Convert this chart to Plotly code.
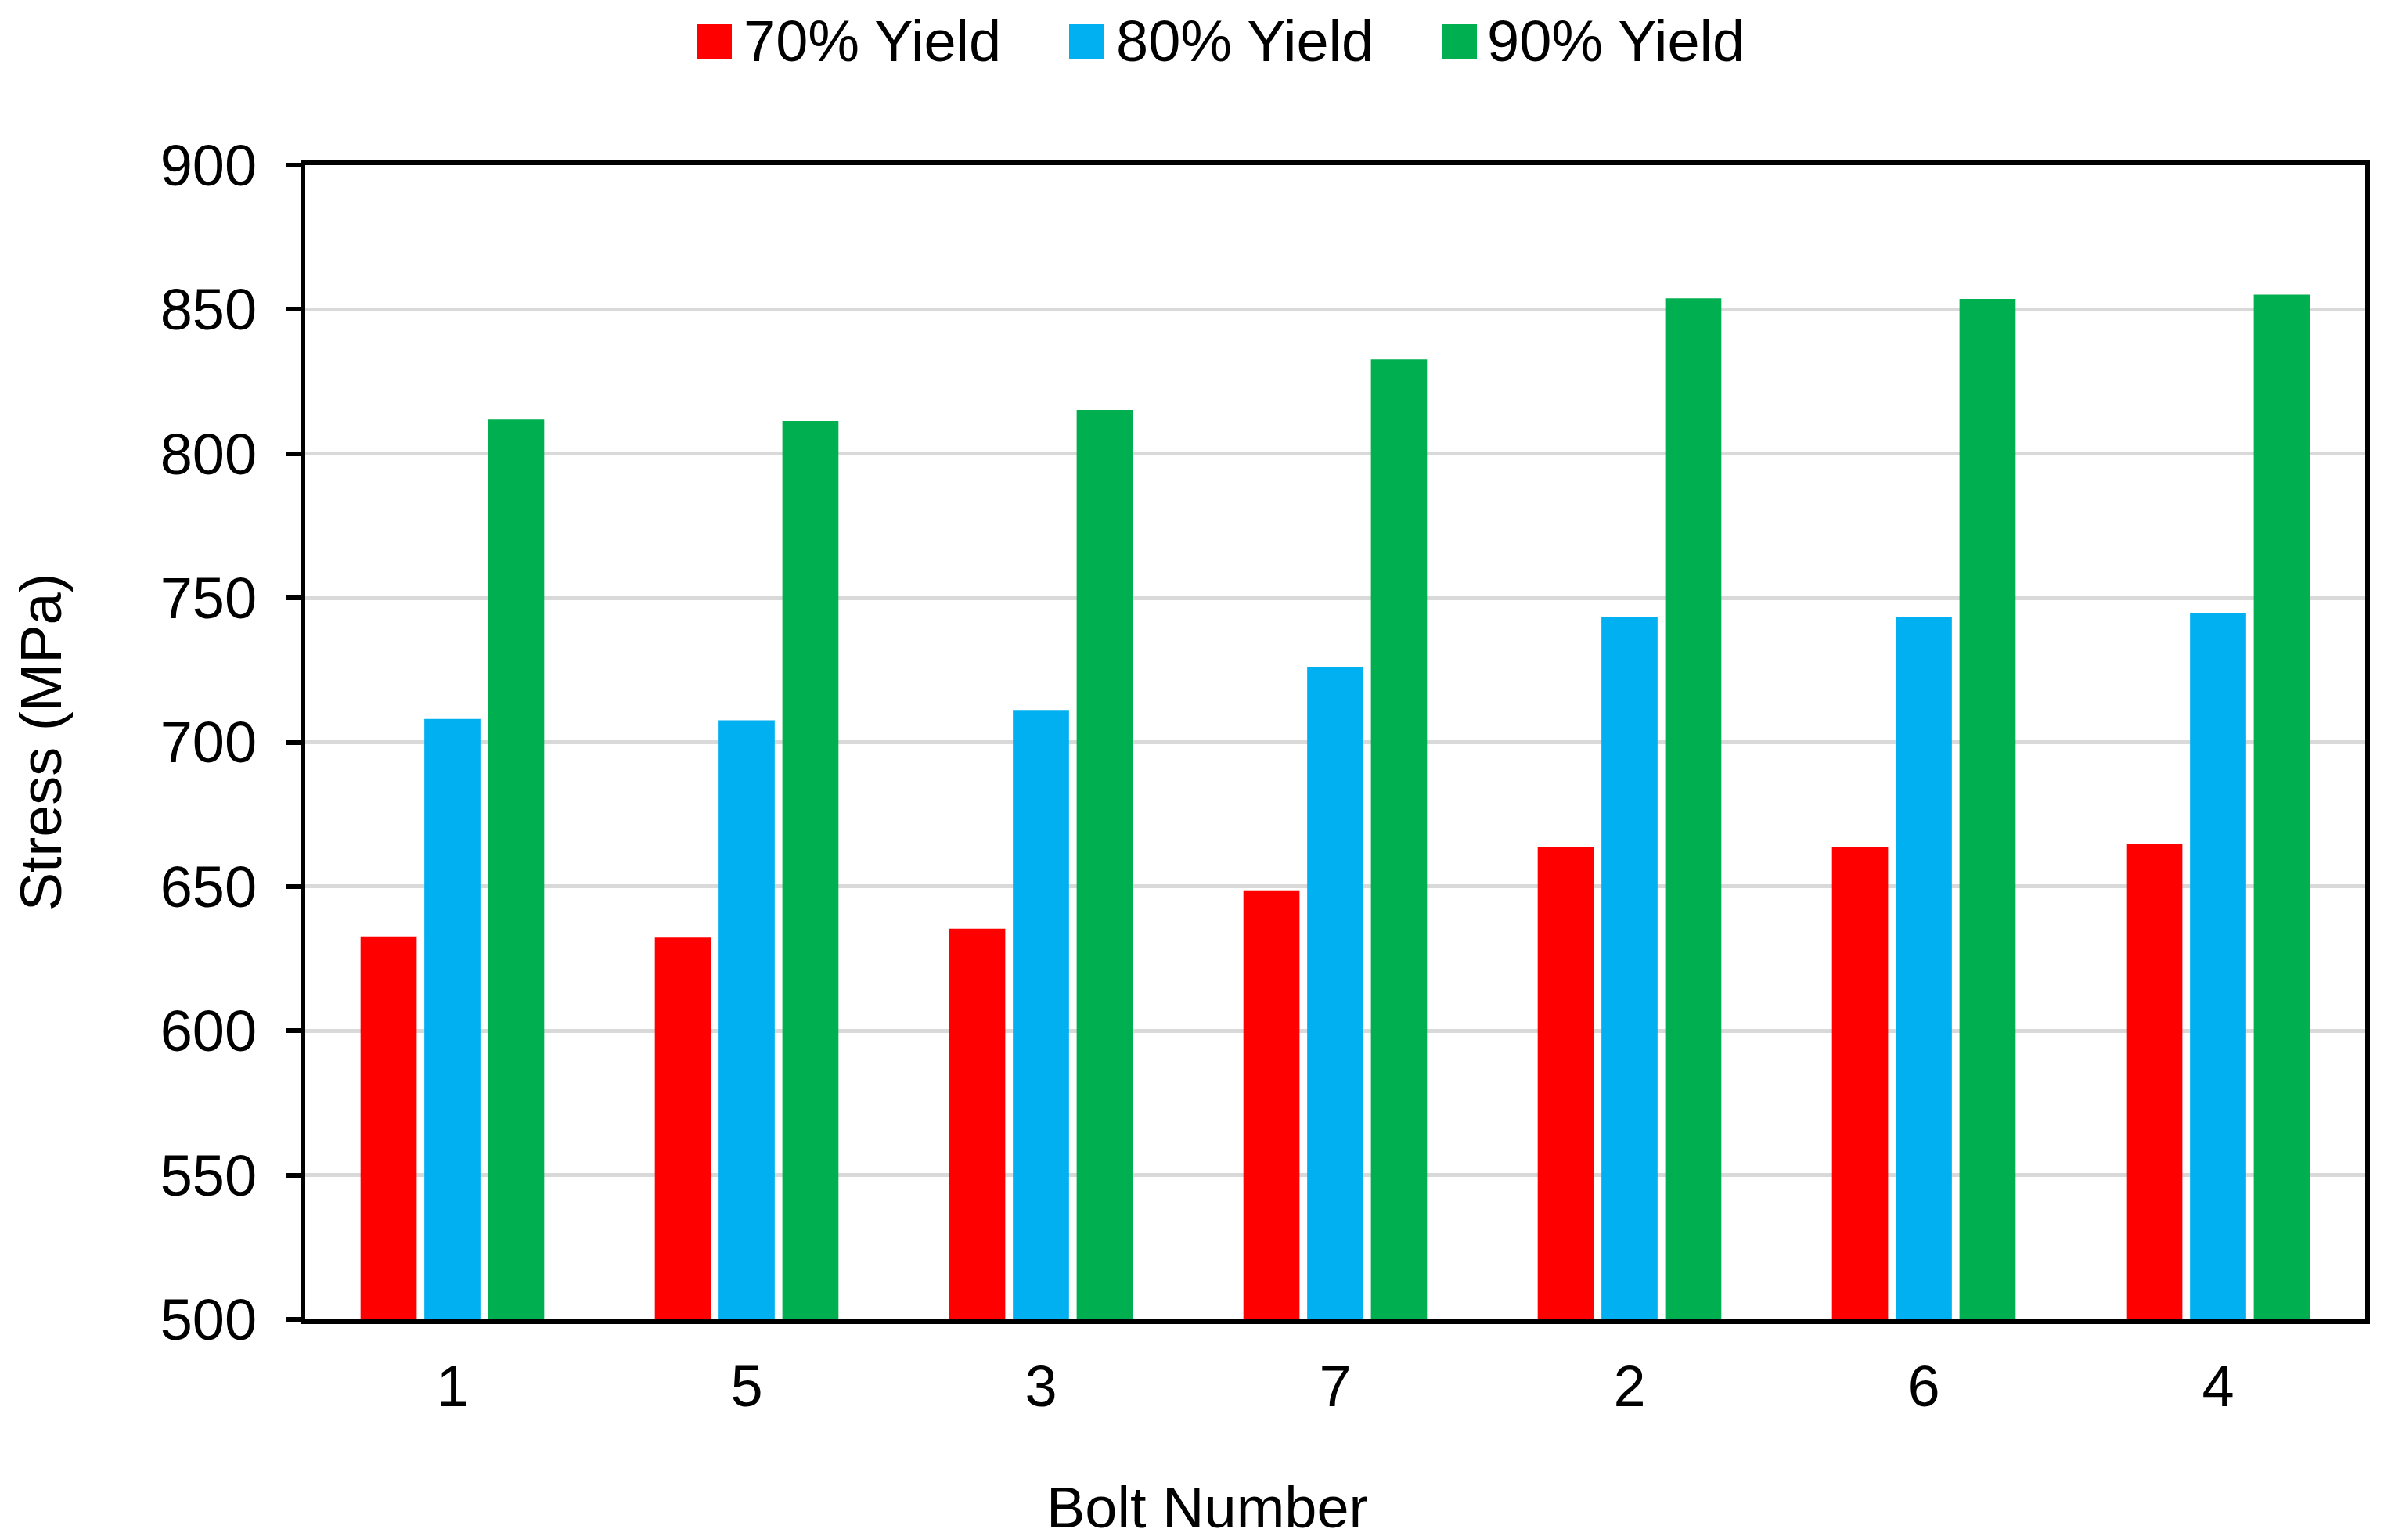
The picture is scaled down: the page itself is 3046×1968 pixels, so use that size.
import plotly.graph_objects as go

bolts = ["1", "5", "3", "7", "2", "6", "4"]
series_names = ["70% Yield", "80% Yield", "90% Yield"]
yield70 = [632.7, 632.3, 635.4, 648.7, 663.8, 663.8, 664.9]
yield80 = [708.1, 707.6, 711.2, 725.9, 743.4, 743.4, 744.6]
yield90 = [811.8, 811.3, 815.1, 832.7, 853.8, 853.6, 855.1]
y_ticks = [500, 550, 600, 650, 700, 750, 800, 850, 900]
x_title = "Bolt Number"
y_title = "Stress (MPa)"

colors = ["#FF0000", "#00B0F0", "#00B050"]
W, H = 3046, 1968
L, R, T, B = 390, 24, 211, 282
PW, PH = W - L - R, H - T - B
FONT = "Liberation Sans, Arial, sans-serif"
FS = 74

fig = go.Figure()
for name, vals, c in zip(series_names, [yield70, yield80, yield90], colors):
    fig.add_trace(go.Bar(x=bolts, y=vals, name=name, marker=dict(color=c, line=dict(width=0)),
                         showlegend=False))


def px_x(p):
    return (p - L) / PW


def px_y(p):
    return (H - B - p) / PH


# custom legend (large square swatches, as in the reference)
sq_left = [890, 1366, 1842]
txt_left = [948, 1424, 1898]
for name, c, sx, tx in zip(series_names, colors, sq_left, txt_left):
    fig.add_shape(type="rect", xref="paper", yref="paper",
                  x0=px_x(sx), x1=px_x(sx + 45), y0=px_y(76), y1=px_y(31),
                  fillcolor=c, line=dict(width=0))
    fig.add_annotation(text=name, xref="paper", yref="paper", x=px_x(tx), y=px_y(53),
                       xanchor="left", yanchor="middle", showarrow=False,
                       font=dict(family=FONT, size=FS, color="black"))

# x-axis title (centred on the figure, as in the reference)
fig.add_annotation(text=x_title, xref="paper", yref="paper", x=px_x(1542), y=px_y(1926),
                   xanchor="center", yanchor="middle", showarrow=False,
                   font=dict(family=FONT, size=FS, color="black"))

fig.update_layout(
    width=W, height=H,
    margin=dict(l=L, r=R, t=T, b=B, pad=0, autoexpand=False),
    paper_bgcolor="white", plot_bgcolor="white",
    barmode="group", bargap=0.35, bargroupgap=0.12,
    font=dict(family=FONT, size=FS, color="black"),
    showlegend=False,
)
fig.update_xaxes(
    automargin=False,
    showline=True, linecolor="black", linewidth=6, mirror=True,
    ticks="", showgrid=False, ticklabelstandoff=16,
    tickfont=dict(size=FS),
)
fig.update_yaxes(
    automargin=False,
    range=[500, 900], tickvals=y_ticks,
    showline=True, linecolor="black", linewidth=6, mirror=True,
    ticks="outside", ticklen=19, tickwidth=6, tickcolor="black",
    showgrid=True, gridcolor="#D9D9D9", gridwidth=5,
    zeroline=False, ticklabelstandoff=22,
    title=dict(text=y_title, standoff=104, font=dict(size=FS)),
    tickfont=dict(size=FS),
)

fig.write_html(
    "out.html",
    config={"displayModeBar": False},
    post_script="document.body.style.margin='0';document.body.style.padding='0';"
                "document.body.style.overflow='hidden';",
)
